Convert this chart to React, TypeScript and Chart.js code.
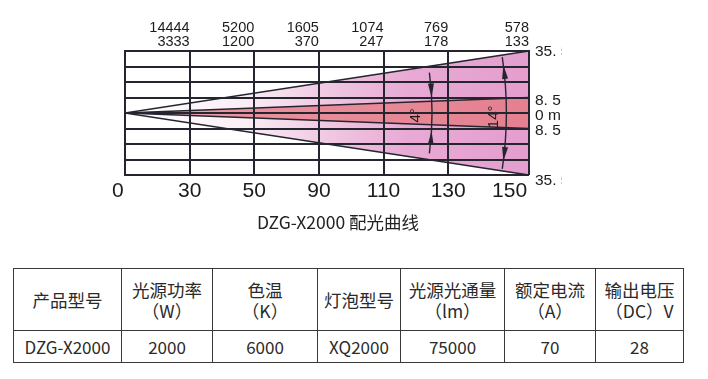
import React, { useEffect, useRef } from "react";
import { Chart, registerables } from "chart.js";

Chart.register(...registerables);

// ---- data ----
const distances = ["0", "30", "50", "90", "110", "130", "150"];
const luxCenter = [14444, 5200, 1605, 1074, 769, 578];
const luxEdge = [3333, 1200, 370, 247, 178, 133];
const widthLabels = ["35. 5", "8. 5", "0 m", "8. 5", "35. 5"];
const beamAngles = ["4°", "14°"];
// beam edges in grid rows (schematic), from apex to far end
const innerUpper = [0, 1];
const innerLower = [0, -1];
const outerUpper = [0, 4];
const outerLower = [0, -4];
const beamX = [0, 6.25];

const tableHeaders = [
  ["产品型号"],
  ["光源功率", "（W）"],
  ["色温", "（K）"],
  ["灯泡型号"],
  ["光源光通量", "（lm）"],
  ["额定电流", "（A）"],
  ["输出电压", "（DC）V"],
];
const tableValues = ["DZG-X2000", "2000", "6000", "XQ2000", "75000", "70", "28"];

const GRID = "#25252f";
const TEXT = "#1c1c1c";
const FONT = "'Liberation Sans', Arial, sans-serif";

const pts = (ys: number[]) => ys.map((y, i) => ({ x: beamX[i], y }));

const annotationPlugin = {
  id: "beamAnnot",
  afterDatasetsDraw(chart: any) {
    const { ctx, scales } = chart;
    const xs = scales.x;
    const ys = scales.y;
    const ax = xs.getPixelForValue(0);
    const ay = ys.getPixelForValue(0);
    const drawArrow = (r: number, phi: number, dir: number) => {
      const tx = ax + r * Math.cos(phi);
      const ty = ay + r * Math.sin(phi);
      const tanx = -Math.sin(phi) * dir;
      const tany = Math.cos(phi) * dir;
      const nx = Math.cos(phi);
      const ny = Math.sin(phi);
      const L = 14;
      const w = 3;
      const bx = tx - tanx * L;
      const by = ty - tany * L;
      ctx.beginPath();
      ctx.moveTo(tx, ty);
      ctx.lineTo(bx + nx * w, by + ny * w);
      ctx.lineTo(bx - nx * w, by - ny * w);
      ctx.closePath();
      ctx.fill();
    };
    ctx.save();
    ctx.strokeStyle = GRID;
    ctx.fillStyle = GRID;
    ctx.lineWidth = 1.4;
    // 4° arc
    const r4 = xs.getPixelForValue(4.75) - ax;
    const e4 = Math.asin((ys.getPixelForValue(-2.6) - ay) / r4);
    ctx.beginPath();
    ctx.arc(ax, ay, r4, -e4, e4);
    ctx.stroke();
    const i4 = Math.asin((ys.getPixelForValue(-1) - ay) / r4);
    drawArrow(r4, -i4, 1);
    drawArrow(r4, i4 + 0.008, -1);
    // 14° arc
    const r14 = xs.getPixelForValue(5.9) - ax;
    const e14 = Math.asin((ys.getPixelForValue(-3.6) - ay) / r14);
    ctx.beginPath();
    ctx.arc(ax, ay, r14, -e14, e14);
    ctx.stroke();
    const t14 = Math.asin((ys.getPixelForValue(-3.1) - ay) / r14);
    drawArrow(r14, -t14, -1);
    drawArrow(r14, t14, 1);
    // angle labels
    ctx.font = `15px ${FONT}`;
    ctx.fillStyle = TEXT;
    ctx.textAlign = "center";
    ctx.textBaseline = "middle";
    const labelPos = [
      [4.5, -0.15],
      [5.7, -0.25],
    ];
    beamAngles.forEach((t, i) => {
      ctx.save();
      ctx.translate(xs.getPixelForValue(labelPos[i][0]), ys.getPixelForValue(labelPos[i][1]));
      ctx.rotate(-Math.PI / 2);
      ctx.fillText(t, 0, 0);
      ctx.restore();
    });
    ctx.restore();
  },
};

function ChartBox() {
  const ref = useRef<HTMLCanvasElement>(null);
  useEffect(() => {
    if (!ref.current) return;
    const grad = (stops: [number, string][]) => (c: any) => {
      const chart = c.chart;
      const area = chart.chartArea;
      if (!area) return "rgba(0,0,0,0)";
      const g = chart.ctx.createLinearGradient(area.left, 0, area.right, 0);
      stops.forEach(([o, col]) => g.addColorStop(o, col));
      return g;
    };
    const outerGrad = grad([
      [0, "rgba(255,255,255,1)"],
      [0.3, "rgba(250,238,245,1)"],
      [0.5, "rgba(240,200,226,1)"],
      [0.7, "rgba(232,170,212,1)"],
      [1, "rgba(227,158,206,1)"],
    ]);
    const innerGrad = grad([
      [0, "rgba(244,200,210,1)"],
      [0.25, "rgba(234,146,158,1)"],
      [1, "rgba(228,128,144,1)"],
    ]);
    const lineDs = (data: number[], fill: any, bg: any) => ({
      type: "line" as const,
      data: pts(data),
      borderColor: GRID,
      borderWidth: 1.6,
      pointRadius: 0,
      tension: 0,
      fill,
      backgroundColor: bg,
      xAxisID: "x",
      yAxisID: "y",
    });
    const chart = new Chart(ref.current, {
      type: "line",
      data: {
        datasets: [
          lineDs(innerUpper, "+1", innerGrad),
          lineDs(innerLower, false, "rgba(0,0,0,0)"),
          lineDs(outerUpper, "+1", outerGrad),
          lineDs(outerLower, false, "rgba(0,0,0,0)"),
        ] as any,
      },
      options: {
        animation: false,
        responsive: false,
        maintainAspectRatio: false,
        layout: { padding: { left: 125, right: 0, top: 0, bottom: 0 } },
        plugins: {
          legend: { display: false },
          tooltip: { enabled: false },
          filler: { drawTime: "beforeDatasetsDraw" },
        } as any,
        scales: {
          x: {
            type: "linear",
            position: "bottom",
            min: 0,
            max: 6.25,
            grid: { display: false, drawTicks: false },
            border: { display: false },
            afterBuildTicks: (s: any) => {
              s.ticks = [-0.11, 1, 2, 3, 4, 5, 5.95].map((v) => ({ value: v }));
            },
            ticks: {
              autoSkip: false,
              maxRotation: 0,
              padding: 4,
              color: TEXT,
              font: { size: 21, family: FONT },
              callback: (_v: any, i: number) => distances[i],
            },
            afterFit: (s: any) => {
              s.height = 65;
            },
          },
          x2: {
            type: "linear",
            position: "top",
            min: 0,
            max: 6.25,
            grid: { color: GRID, lineWidth: 2, drawTicks: false, z: 1 },
            border: { display: true, color: GRID, width: 2, z: 1 },
            afterBuildTicks: (s: any) => {
              s.ticks = [0, 1, 2, 3, 4, 5, 6.25].map((v) => ({ value: v }));
            },
            ticks: {
              autoSkip: false,
              maxRotation: 0,
              align: "end",
              padding: 2,
              color: TEXT,
              font: { size: 14.5, family: FONT, lineHeight: 0.97 },
              callback: (_v: any, i: number) =>
                i === 0 ? "" : [String(luxCenter[i - 1]), String(luxEdge[i - 1])],
            },
            afterFit: (s: any) => {
              s.height = 51;
            },
          },
          y: {
            type: "linear",
            position: "left",
            min: -4,
            max: 4,
            grid: { color: GRID, lineWidth: 2, drawTicks: false, z: 1 },
            border: { display: true, color: GRID, width: 2, z: 1 },
            ticks: { display: false, stepSize: 1 },
            afterFit: (s: any) => {
              s.width = 0;
            },
          },
          y2: {
            type: "linear",
            position: "right",
            min: -4,
            max: 4,
            grid: { display: false, drawTicks: false },
            border: { display: false },
            afterBuildTicks: (s: any) => {
              s.ticks = [3.95, 0.8, -0.2, -1.13, -4.35].map((v) => ({ value: v }));
            },
            ticks: {
              autoSkip: false,
              padding: 6,
              color: TEXT,
              font: { size: 15.5, family: FONT },
              callback: (_v: any, i: number) => widthLabels[i],
            },
            afterFit: (s: any) => {
              s.width = 562 - 529;
            },
          },
        } as any,
      },
      plugins: [annotationPlugin],
    });
    return () => chart.destroy();
  }, []);
  return (
    <canvas
      ref={ref}
      width={562}
      height={240}
      style={{ position: "absolute", left: 0, top: 0, width: 562, height: 240 }}
    />
  );
}

const colWidths = [108, 91, 105, 83, 104, 91, 88];

export default function App() {
  const cellBorder = "1.6px solid #3a3a3a";
  const cjk = "'Noto Sans CJK SC', 'Noto Sans', sans-serif";
  return (
    <div style={{ position: "absolute", left: 0, top: 0, width: 708, height: 379, background: "#fff", overflow: "hidden" }}>
      <ChartBox />
      <div
        style={{
          position: "absolute",
          left: 230,
          top: 209,
          width: 216,
          textAlign: "center",
          fontFamily: cjk,
          fontSize: 17.5,
          lineHeight: "26px",
          color: "#222",
        }}
      >
        DZG-X2000 配光曲线
      </div>
      <table
        style={{
          position: "absolute",
          left: 13,
          top: 268,
          borderCollapse: "collapse",
          tableLayout: "fixed",
          fontFamily: cjk,
          color: "#2a2a2a",
        }}
      >
        <colgroup>
          {colWidths.map((w, i) => (
            <col key={i} style={{ width: w }} />
          ))}
        </colgroup>
        <tbody>
          <tr style={{ height: 62 }}>
            {tableHeaders.map((lines, i) => (
              <td
                key={i}
                style={{
                  border: cellBorder,
                  textAlign: "center",
                  verticalAlign: "middle",
                  fontSize: 17.5,
                  lineHeight: "21px",
                  padding: 0,
                  whiteSpace: "nowrap",
                }}
              >
                {lines.map((l, j) => (
                  <div key={j}>{l}</div>
                ))}
              </td>
            ))}
          </tr>
          <tr style={{ height: 32 }}>
            {tableValues.map((v, i) => (
              <td
                key={i}
                style={{
                  border: cellBorder,
                  textAlign: "center",
                  verticalAlign: "middle",
                  fontSize: 17,
                  lineHeight: "20px",
                  padding: 0,
                  whiteSpace: "nowrap",
                }}
              >
                {v}
              </td>
            ))}
          </tr>
        </tbody>
      </table>
    </div>
  );
}
